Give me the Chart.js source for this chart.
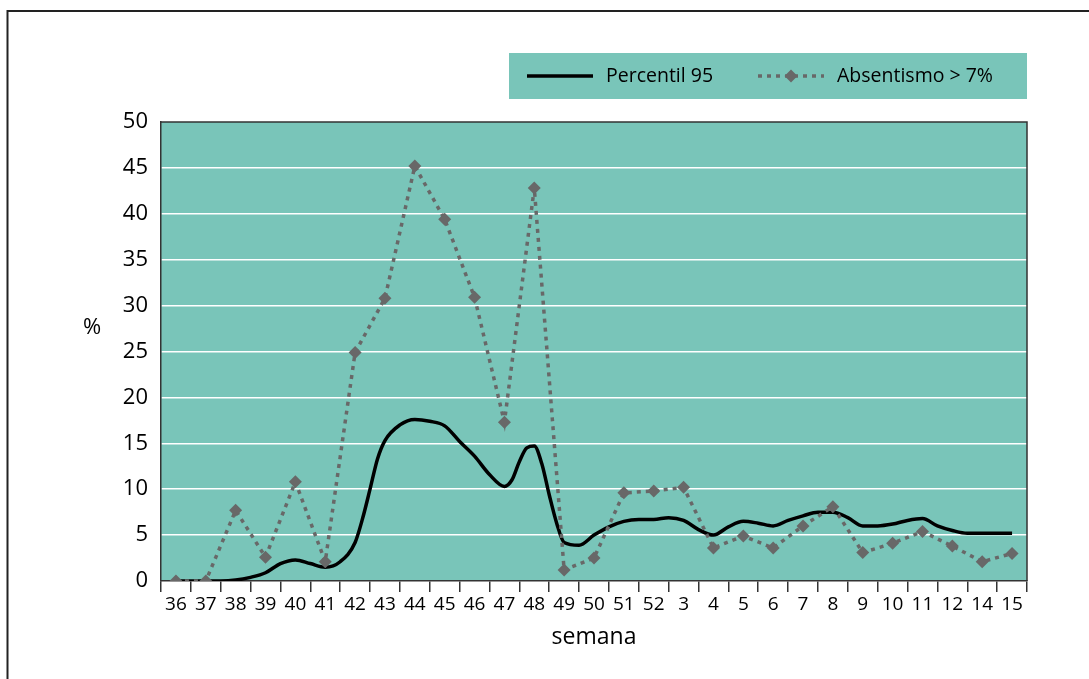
<!DOCTYPE html>
<html>
<head>
<meta charset="utf-8">
<script src="https://cdn.jsdelivr.net/npm/chart.js@4/dist/chart.umd.min.js"></script>
<style>
  html, body { margin: 0; padding: 0; background: #fff; }
  #wrap { width: 1089px; height: 679px; position: relative; }
</style>
</head>
<body>
<div id="wrap"><canvas id="chart" width="1089" height="679"></canvas></div>
<script>
// semanas (eje x)
var weeks = ["36", "37", "38", "39", "40", "41", "42", "43", "44", "45", "46", "47", "48", "49",
  "50", "51", "52", "3", "4", "5", "6", "7", "8", "9", "10", "11", "12", "14", "15"];

// Absentismo > 7% (one value per week)
var absentismo = [0, 0, 7.7, 2.6, 10.8, 2.1, 24.9, 30.8, 45.2, 39.4, 30.9, 17.3, 42.8, 1.2,
  2.5, 9.6, 9.8, 10.2, 3.6, 4.9, 3.6, 6.0, 8.1, 3.1, 4.1, 5.4, 3.8, 2.1, 3.0];

var p95Pos = [0, 0.5, 1, 1.5, 2, 2.5, 3, 3.5, 4, 4.5, 5, 5.5, 6, 6.25, 6.5, 6.75, 7, 7.5, 8, 8.5,
  9, 9.5, 10, 10.5, 11, 11.25, 11.5, 11.75, 12, 12.25, 12.5, 12.75, 13, 13.5, 14, 14.5, 15, 15.5,
  16, 16.5, 17, 17.5, 18, 18.5, 19, 19.5, 20, 20.5, 21, 21.5, 22, 22.5, 23, 23.5, 24, 24.5, 25,
  25.5, 26, 26.5, 27, 27.5, 28];
var p95Val = [0, 0, 0, 0, 0.1, 0.4, 0.9, 1.9, 2.3, 1.9, 1.5, 2.1, 4.2, 6.8, 10.0, 13.3, 15.3, 17.0,
  17.6, 17.4, 16.9, 15.2, 13.6, 11.6, 10.3, 11.0, 13.0, 14.5, 14.7, 12.8, 9.4, 6.3, 4.2, 3.9,
  5.0, 5.9, 6.5, 6.7, 6.7, 6.9, 6.6, 5.6, 5.0, 5.9, 6.5, 6.3, 6.0, 6.6, 7.1, 7.5, 7.5, 6.9,
  6.0, 6.0, 6.2, 6.6, 6.8, 6.0, 5.5, 5.2, 5.2, 5.2, 5.2];

var yTicks = [0, 5, 10, 15, 20, 25, 30, 35, 40, 45, 50];

var teal = "#79c5b9";
var grey = "#686868";
var frame = "#333";
var fontName = "'Open Sans', 'Noto Sans', sans-serif";

var p95Points = [];
for (var i = 0; i < p95Pos.length; i++) {
  p95Points.push({ x: p95Pos[i], y: p95Val[i] });
}

//////////////////////////////////////////////////////////////////////////////
// background, frame, legend and the "%" label
var decor = {
  id: "decor",
  beforeDraw: function (chart) {
    var ctx = chart.ctx;
    var a = chart.chartArea;
    ctx.save();
    ctx.fillStyle = "#fff";
    ctx.fillRect(0, 0, chart.width, chart.height);
    // outer frame (runs off the right and bottom edge)
    ctx.strokeStyle = "#222";
    ctx.lineWidth = 2;
    ctx.strokeRect(7.5, 11, 1200, 800);
    ctx.fillStyle = teal;
    ctx.fillRect(a.left, a.top, a.right - a.left, a.bottom - a.top);
    ctx.restore();
  },
  beforeDatasetsDraw: function (chart) {
    var ctx = chart.ctx;
    var a = chart.chartArea;
    ctx.save();
    ctx.strokeStyle = frame;
    ctx.lineWidth = 1.5;
    ctx.beginPath();
    ctx.moveTo(a.left, a.top);
    ctx.lineTo(a.right, a.top);
    ctx.lineTo(a.right, a.bottom);
    ctx.stroke();
    ctx.restore();
  },
  afterDraw: function (chart) {
    var ctx = chart.ctx;
    var ds = chart.data.datasets;
    ctx.save();
    // legend box
    ctx.fillStyle = teal;
    ctx.fillRect(509, 53, 518, 46);
    var ly = 76;
    ctx.font = "19.5px " + fontName;
    ctx.textBaseline = "middle";
    ctx.fillStyle = "#000";

    // Percentil 95
    ctx.strokeStyle = ds[1].borderColor;
    ctx.lineWidth = 3.5;
    ctx.beginPath();
    ctx.moveTo(527, ly);
    ctx.lineTo(593, ly);
    ctx.stroke();
    ctx.fillText(ds[1].label, 606, ly);

    // Absentismo
    ctx.strokeStyle = ds[0].borderColor;
    ctx.lineWidth = 3.5;
    ctx.setLineDash(ds[0].borderDash);
    ctx.beginPath();
    ctx.moveTo(758, ly);
    ctx.lineTo(824, ly);
    ctx.stroke();
    ctx.setLineDash([]);
    ctx.fillStyle = ds[0].pointBackgroundColor;
    ctx.beginPath();
    ctx.moveTo(791, ly - 6.5);
    ctx.lineTo(797.5, ly);
    ctx.lineTo(791, ly + 6.5);
    ctx.lineTo(784.5, ly);
    ctx.closePath();
    ctx.fill();
    ctx.fillStyle = "#000";
    ctx.fillText(ds[0].label, 837, ly);

    // y axis title, horizontal
    ctx.font = "22px " + fontName;
    ctx.textAlign = "center";
    ctx.fillText("%", 92, 328);
    ctx.restore();
  }
};

var ctx = document.getElementById("chart").getContext("2d");
var chart = new Chart(ctx, {
  type: "line",
  data: {
    labels: weeks,
    datasets: [{
      label: "Absentismo > 7%",
      data: absentismo,
      xAxisID: "x",
      order: 0,
      borderColor: grey,
      borderWidth: 3.5,
      borderDash: [4, 5],
      pointStyle: "rectRot",
      pointRadius: 6.5,
      pointBackgroundColor: grey,
      pointBorderWidth: 0,
      tension: 0,
      fill: false
    }, {
      label: "Percentil 95",
      data: p95Points,
      xAxisID: "x2",
      order: 1,
      borderColor: "#000",
      borderWidth: 3.5,
      pointRadius: 0,
      cubicInterpolationMode: "monotone",
      fill: false
    }]
  },
  options: {
    responsive: false,
    animation: false,
    layout: { padding: { left: 0, right: 62, top: 122, bottom: 0 } },
    plugins: {
      legend: { display: false },
      tooltip: { enabled: false }
    },
    scales: {
      x: {
        type: "category",
        offset: true,
        grid: { offset: true, drawOnChartArea: false, color: frame, lineWidth: 1.5, tickLength: 11 },
        border: { color: frame, width: 1.5 },
        ticks: { color: "#000", font: { family: fontName, size: 19 }, padding: 1, maxRotation: 0, autoSkip: false },
        title: { display: true, text: "semana", color: "#000", font: { family: fontName, size: 23 }, padding: { top: 0, bottom: 28 } },
        afterFit: function (scale) { scale.height = 98; }
      },
      x2: {
        type: "linear",
        display: false,
        min: -0.5,
        max: 28.5
      },
      y: {
        min: 0,
        max: 50,
        afterBuildTicks: function (scale) {
          scale.ticks = yTicks.map(function (v) { return { value: v }; });
        },
        grid: {
          drawTicks: false,
          lineWidth: 1.5,
          color: function (c) {
            return (c.tick.value === 0 || c.tick.value === 50) ? "rgba(0,0,0,0)" : "#fff";
          }
        },
        border: { color: frame, width: 1.5 },
        ticks: { color: "#000", font: { family: fontName, size: 22 }, padding: 13 },
        afterFit: function (scale) { scale.width = 161; }
      }
    }
  },
  plugins: [decor]
});
</script>
</body>
</html>
